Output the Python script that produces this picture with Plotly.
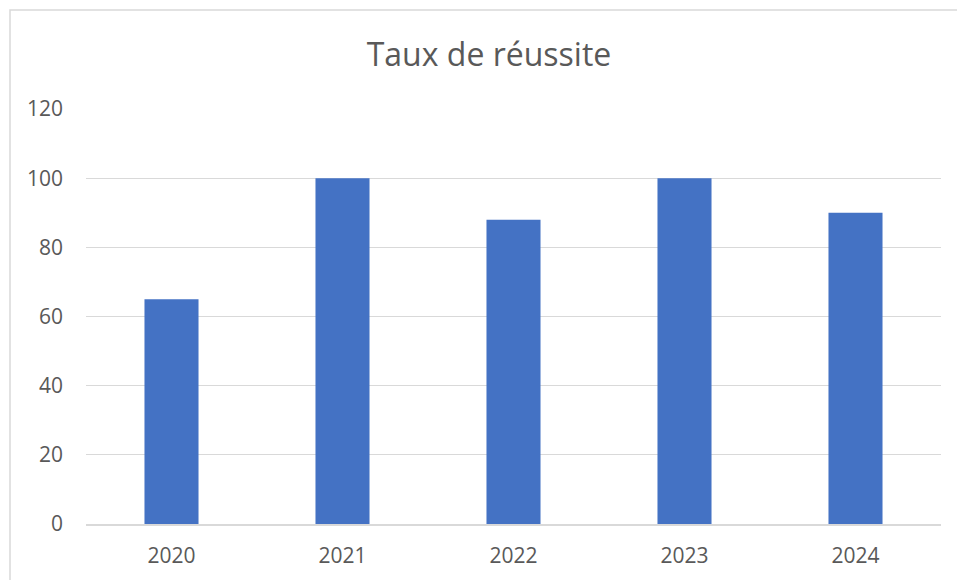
import plotly.graph_objects as go

years = ["2020", "2021", "2022", "2023", "2024"]
taux = [65, 100, 88, 100, 90]
y_ticks = [0, 20, 40, 60, 80, 100, 120]

W, H = 957, 580
L, R, T, B = 86, 16, 109, 56
pw = W - L - R
ph = H - T - B

fig = go.Figure(go.Bar(x=years, y=taux, marker=dict(color="#4472C4", line=dict(width=0)),
                       hoverinfo="skip"))

fig.update_layout(
    width=W, height=H,
    margin=dict(l=L, r=R, t=T, b=B),
    paper_bgcolor="white", plot_bgcolor="white",
    bargap=0.684,
    showlegend=False,
    font=dict(family="Open Sans, Lato, sans-serif", color="#595959", size=21),
    title=dict(text="Taux de réussite", x=489 / W, xanchor="center", xref="container",
               y=1 - 55 / H, yanchor="middle", yref="container",
               font=dict(size=32, color="#595959")),
    xaxis=dict(showgrid=False, showline=True, linecolor="#d9d9d9", linewidth=1.5,
               ticks="", ticklabelstandoff=12, tickfont=dict(size=21)),
    yaxis=dict(range=[0, 120], tickvals=y_ticks, showgrid=True, gridcolor="#d9d9d9",
               gridwidth=1.3, zeroline=False, showline=False, ticks="",
               ticklabelstandoff=22, tickfont=dict(size=21)),
    shapes=[dict(type="rect", xref="paper", yref="paper",
                 x0=(10 - L) / pw, x1=(W + 20 - L) / pw,
                 y0=-(B + 20) / ph, y1=(H - 10 - B) / ph,
                 line=dict(color="#d9d9d9", width=1.5), fillcolor="rgba(0,0,0,0)",
                 layer="below")],
)

fig.write_html("out.html", config={"displayModeBar": False},
               post_script="document.body.style.margin='0';")
